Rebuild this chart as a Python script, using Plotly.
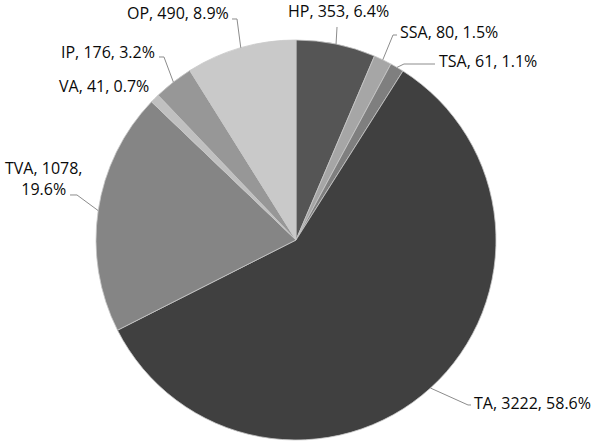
import math
import plotly.graph_objects as go

# Data
labels = ["HP", "SSA", "TSA", "TA", "TVA", "VA", "IP", "OP"]
values = [353, 80, 61, 3222, 1078, 41, 176, 490]
colors = ["#555555", "#a6a6a6", "#7f7f7f", "#404040",
          "#858585", "#c0c0c0", "#979797", "#c9c9c9"]

W, H = 600, 447
CX, CY, R = 296, 240, 200  # pie centre / radius in pixels


def px(x, y):
    # pixel -> paper coords
    return x / W, (H - y) / H


total = sum(values)
pcts = [v / total * 100 for v in values]

# label placement (pixels): text x, text y, anchor, elbow points
label_pos = {
    "HP":  dict(tx=338, ty=11, xa="center", elbow=[(337, 27)]),
    "SSA": dict(tx=398, ty=32, xa="left", elbow=[(393, 35), (397, 35)]),
    "TSA": dict(tx=437, ty=61, xa="left", elbow=[(404, 64), (435, 64)]),
    "TA":  dict(tx=472, ty=403, xa="left", elbow=[(468, 405), (471, 405)]),
    "TVA": dict(tx=44, ty=178, xa="center", elbow=[(77, 195), (70, 195)]),
    "VA":  dict(tx=151, ty=86, xa="right", elbow=[]),
    "IP":  dict(tx=157, ty=52, xa="right", elbow=[(164, 57), (159, 57)]),
    "OP":  dict(tx=231, ty=13, xa="right", elbow=[(237, 19), (232, 19)]),
}

x0, y1 = px(CX - R, CY - R)
x1, y0 = px(CX + R, CY + R)

fig = go.Figure(go.Pie(
    labels=labels,
    values=values,
    sort=False,
    direction="clockwise",
    rotation=0,
    marker={"colors": colors, "line": {"color": "#c8c8c8", "width": 0.8}},
    textinfo="none",
    hoverinfo="label+value+percent",
    domain={"x": [x0, x1], "y": [y0, y1]},
))

shapes = []
annotations = []
cum = 0
for lab, val, pct in zip(labels, values, pcts):
    mid = (cum + val / 2) / total * 2 * math.pi
    cum += val
    ex = CX + R * math.sin(mid)
    ey = CY - R * math.cos(mid)
    p = label_pos[lab]
    pts = [(ex, ey)] + p["elbow"]
    if len(pts) > 1:
        path = "M " + " L ".join(
            "{:.4f},{:.4f}".format(*px(x, y)) for x, y in pts)
        shapes.append(dict(type="path", path=path, xref="paper", yref="paper",
                           line={"color": "#8c8c8c", "width": 1}))
    if lab == "TVA":
        text = "{}, {},<br>{:.1f}%".format(lab, val, pct)
    else:
        text = "{}, {}, {:.1f}%".format(lab, val, pct)
    x, y = px(p["tx"], p["ty"])
    annotations.append(dict(x=x, y=y, xref="paper", yref="paper", text=text,
                            showarrow=False, xanchor=p["xa"], yanchor="middle",
                            align="center"))

fig.update_layout(
    width=W, height=H,
    margin={"l": 0, "r": 0, "t": 0, "b": 0},
    paper_bgcolor="white",
    plot_bgcolor="white",
    showlegend=False,
    font={"family": "Open Sans", "size": 16, "color": "#0a0a0a"},
    shapes=shapes,
    annotations=annotations,
)

# drop the default 8px page margin so the chart fills the window exactly
fig.write_html("out.html", config={"displayModeBar": False},
               post_script="document.body.style.margin = '0';")
